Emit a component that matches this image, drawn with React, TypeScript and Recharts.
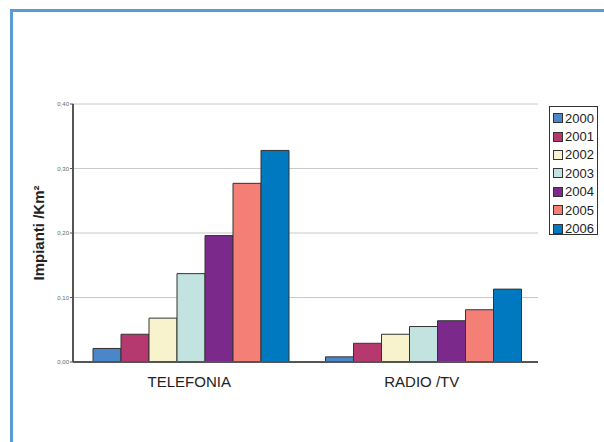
import React from 'react';
import { BarChart, Bar, XAxis, YAxis, CartesianGrid, Legend } from 'recharts';

const categories = ['TELEFONIA', 'RADIO /TV'];
const years = ['2000', '2001', '2002', '2003', '2004', '2005', '2006'];
const telefonia = [0.021, 0.043, 0.068, 0.137, 0.196, 0.277, 0.328];
const radioTv = [0.008, 0.029, 0.043, 0.055, 0.064, 0.081, 0.113];
const yTicks = [0, 0.1, 0.2, 0.3, 0.4];
const colors = ['#4A86C8', '#B5386E', '#F8F3CC', '#C3E3E0', '#7B2A8C', '#F47F76', '#0079C1'];

const seriesByCategory = [telefonia, radioTv];
const data = categories.map((name, ci) => {
  const row: Record<string, string | number> = { name };
  years.forEach((y, yi) => {
    row[y] = seriesByCategory[ci][yi];
  });
  return row;
});

const FONT = '"Liberation Sans", Arial, sans-serif';

const fmt = (v: number) => v.toFixed(2).replace('.', ',');

const LegendBox = (props: any) => {
  const payload = props.payload || [];
  return (
    <div
      style={{
        border: '1px solid #333',
        background: '#fff',
        width: 49,
        height: 129,
        boxSizing: 'border-box',
        padding: '2px 0 0 3px',
        fontFamily: FONT,
        fontSize: 13,
        color: '#222',
      }}
    >
      {payload.map((p: any) => (
        <div key={p.value} style={{ display: 'flex', alignItems: 'center', height: 18.4 }}>
          <span
            style={{
              display: 'inline-block',
              width: 8,
              height: 8,
              background: p.color,
              border: '1px solid #333',
              marginRight: 2,
            }}
          />
          <span>{p.value}</span>
        </div>
      ))}
    </div>
  );
};

const XTick = (props: any) => {
  const { x, y, payload } = props;
  return (
    <text x={x} y={y} dy={17} textAnchor="middle" fontFamily={FONT} fontSize={15} fill="#222">
      {payload.value}
    </text>
  );
};

export default function App() {
  return (
    <div style={{ position: 'absolute', left: 0, top: 0, width: 604, height: 442, background: '#fff', overflow: 'hidden' }}>
      <div
        style={{
          position: 'absolute',
          left: 10,
          top: 9,
          width: 700,
          height: 500,
          borderTop: '3px solid #5B9BD5',
          borderLeft: '3px solid #5B9BD5',
        }}
      />
      <div style={{ position: 'absolute', left: 0, top: 0 }}>
        <BarChart
          width={604}
          height={442}
          data={data}
          margin={{ top: 104, right: 17, bottom: 50, left: 33 }}
          barCategoryGap={20}
          barGap={0}
        >
          <CartesianGrid vertical={false} stroke="#C8C8C8" strokeWidth={1} />
          <XAxis
            dataKey="name"
            height={30}
            tick={<XTick />}
            tickLine={false}
            axisLine={{ stroke: '#555', strokeWidth: 2 }}
          />
          <YAxis
            width={40}
            domain={[0, 0.4]}
            ticks={yTicks}
            tickFormatter={fmt}
            tickSize={3}
            tickMargin={1}
            tick={{ fontSize: 6, fill: '#666', fontFamily: FONT }}
            axisLine={{ stroke: '#555', strokeWidth: 2 }}
            tickLine={{ stroke: '#555' }}
            label={{
              value: 'Impianti /Km²',
              angle: -90,
              position: 'insideLeft',
              offset: 6,
              style: { fontFamily: FONT, fontSize: 15, fontWeight: 'bold', fill: '#222', textAnchor: 'middle' },
            }}
          />
          <Legend
            layout="vertical"
            verticalAlign="top"
            align="right"
            content={<LegendBox />}
            wrapperStyle={{ left: 549, top: 106, width: 49 }}
          />
          {years.map((y, i) => (
            <Bar
              key={y}
              dataKey={y}
              fill={colors[i]}
              stroke="#333"
              strokeWidth={1}
              isAnimationActive={false}
            />
          ))}
        </BarChart>
      </div>
    </div>
  );
}
